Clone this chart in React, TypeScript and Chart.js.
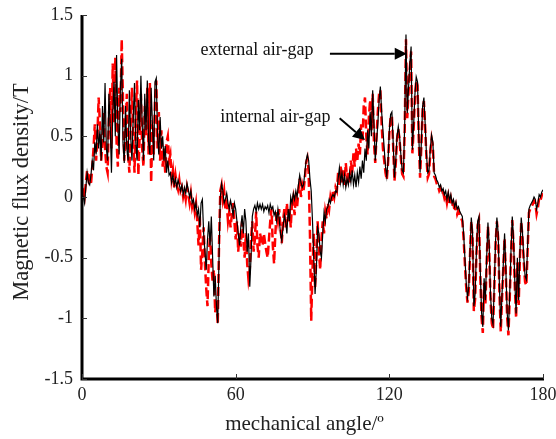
import React, { useEffect, useRef } from "react";
import { Chart, registerables } from "chart.js";

Chart.register(...registerables);

// sampling step of the series, in mechanical degrees
const ANGLE_STEP = 0.5;
const X_MIN = 0;
const X_MAX = 180;
const X_STEP = 60;
const Y_MIN = -1.5;
const Y_MAX = 1.5;
const Y_STEP = 0.5;

// external air-gap (black solid), 0..180 deg every 0.5 deg
const EXTERNAL: number[] = [
  0.02, 0.0, -0.05, 0.08, 0.2, 0.12, 0.1, 0.18, 0.3, 0.22, 0.45, 0.35, 0.6, 0.4, 0.55, 0.3, 0.75, 0.45, 0.94, 0.4,
  0.3, 0.85, 0.6, 0.2, 0.7, 0.95, 0.5, 1.17, 0.6, 0.35, 0.9, 1.14, 0.45, 0.28, 0.75, 0.4, 0.3, 0.88, 0.5, 0.3,
  0.65, 0.94, 0.45, 0.3, 0.8, 0.55, 1.0, 0.6, 0.3, 0.85, 0.55, 0.96, 0.45, 0.35, 0.9, 0.6, 0.3, 0.95, 0.98, 0.5,
  0.35, 0.66, 0.4, 0.5, 0.3, 0.42, 0.2, 0.3, 0.18, 0.2, 0.12, 0.18, 0.1, 0.15, 0.08, 0.14, 0.1, 0.05, 0.1, 0.02,
  0.08, 0.03, 0.11, 0.06, 0.0, 0.05, -0.05, -0.02, -0.1, -0.05, -0.15, -0.1, -0.25, -0.05, -0.02, -0.3, -0.45, -0.6, -0.35, -0.2,
  -0.4, -0.16, -0.5, -0.82, -0.65, -0.9, -1.04, -0.5, 0.0, 0.11, 0.05, -0.05, -0.02, 0.03, -0.05, -0.1, -0.03, -0.08, -0.15, -0.05,
  -0.1, -0.2, -0.3, -0.4, -0.25, -0.15, -0.3, -0.1, -0.2, -0.45, -0.3, -0.74, -0.5, -0.16, -0.1, -0.07, -0.12, -0.05, -0.1, -0.06,
  -0.1, -0.06, -0.12, -0.08, -0.1, -0.07, -0.13, -0.06, -0.1, -0.08, -0.15, -0.12, -0.2, -0.1, -0.18, -0.3, -0.36, -0.25, -0.15, -0.2,
  -0.3, -0.1, -0.2, 0.0, -0.05, 0.03, -0.02, 0.05, 0.0, 0.1, 0.18, 0.12, 0.08, 0.1, 0.2, 0.3, 0.35, 0.3, 0.15, 0.05,
  -0.2, -0.5, -0.8, -0.6, -0.25, -0.3, -0.45, -0.5, -0.3, -0.13, -0.2, -0.1, -0.08, -0.02, -0.05, 0.0, 0.02, 0.0, 0.05, 0.04,
  0.15, 0.24, 0.12, 0.2, 0.1, 0.18, 0.08, 0.15, 0.1, 0.2, 0.12, 0.22, 0.1, 0.18, 0.08, 0.2, 0.12, 0.25, 0.15, 0.3,
  0.2, 0.4, 0.3, 0.55, 0.4, 0.7, 0.5, 0.88, 0.6, 0.3, 0.45, 0.6, 0.8, 0.91, 0.7, 0.55, 0.4, 0.25, 0.17, 0.3,
  0.55, 0.68, 0.7, 0.45, 0.16, 0.3, 0.5, 0.58, 0.5, 0.35, 0.22, 0.2, 0.6, 1.34, 0.69, 0.9, 1.1, 1.24, 0.39, 0.6,
  0.85, 0.99, 0.95, 0.5, 0.2, 0.45, 0.75, 0.82, 0.6, 0.35, 0.2, 0.22, 0.4, 0.51, 0.45, 0.2, 0.18, 0.14, 0.12, 0.08,
  0.1, 0.05, 0.07, 0.02, 0.05, -0.02, 0.04, -0.03, 0.02, -0.05, -0.02, -0.08, -0.04, -0.1, -0.08, -0.12, -0.14, -0.16, -0.3, -0.5,
  -0.7, -0.83, -0.75, -0.45, -0.17, -0.3, -0.9, -0.8, -0.45, -0.2, -0.16, -0.6, -0.95, -1.07, -0.67, -0.85, -0.5, -0.21, -0.4, -0.8,
  -1.0, -1.05, -0.7, -0.35, -0.17, -0.3, -0.75, -1.07, -0.8, -0.55, -0.3, -0.6, -0.95, -1.1, -0.8, -0.45, -0.16, -0.35, -0.7, -0.96,
  -0.5, -0.85, -0.45, -0.17, -0.3, -0.5, -0.65, -0.68, -0.4, -0.1, -0.07, -0.05, -0.03, 0.0, -0.02, -0.1, -0.05, 0.02, 0.0, 0.04,
  0.06,
];

// internal air-gap (red dashed), 0..180 deg every 0.5 deg
const INTERNAL: number[] = [
  0.03, 0.05, 0.0, 0.12, 0.22, 0.15, 0.2, 0.1, 0.25, 0.4, 0.6, 0.3, 0.5, 0.82, 0.6, 0.3, 0.45, 0.7, 0.4, 0.25,
  0.2, 0.65, 0.9, 0.4, 1.1, 0.6, 1.15, 0.45, 0.25, 0.9, 0.7, 1.3, 0.8, 0.3, 0.55, 0.85, 0.35, 0.2, 0.6, 0.9,
  0.5, 0.2, 0.7, 0.96, 0.18, 0.5, 0.85, 0.4, 0.25, 0.75, 0.5, 0.9, 0.35, 0.94, 0.12, 0.6, 0.35, 0.8, 0.96, 0.4,
  0.7, 0.3, 0.55, 0.25, 0.4, 0.2, 0.45, 0.5, 0.3, 0.35, 0.15, 0.22, 0.08, 0.18, 0.1, 0.06, 0.14, 0.05, 0.08, 0.0,
  0.05, -0.02, 0.08, 0.02, -0.05, 0.03, -0.08, -0.03, -0.12, -0.05, -0.2, -0.4, -0.15, -0.6, -0.45, -0.25, -0.55, -0.75, -0.9, -0.5,
  -0.3, -0.55, -0.7, -0.6, -0.95, -0.85, -1.05, -0.4, 0.05, 0.1, -0.02, 0.05, -0.1, -0.05, -0.2, -0.12, -0.25, -0.15, -0.05, -0.2,
  -0.35, -0.2, -0.45, -0.3, -0.41, -0.2, -0.35, -0.5, -0.3, -0.55, -0.68, -0.6, -0.35, -0.2, -0.45, -0.35, -0.12, -0.4, -0.5, -0.3,
  -0.35, -0.4, -0.3, -0.38, -0.45, -0.5, -0.35, -0.2, -0.1, -0.4, -0.55, -0.3, -0.12, -0.2, -0.1, -0.25, -0.38, -0.2, -0.1, -0.25,
  -0.05, -0.2, -0.1, -0.25, -0.05, 0.0, -0.15, 0.02, -0.08, 0.05, 0.15, 0.0, 0.1, 0.05, 0.15, 0.28, 0.32, 0.2, -0.3, -1.02,
  -0.6, -0.3, -0.75, -0.5, -0.2, -0.45, -0.6, -0.35, -0.2, -0.3, -0.12, -0.18, -0.05, -0.1, 0.0, -0.05, 0.05, 0.0, 0.08, 0.05,
  0.2, 0.1, 0.25, 0.12, 0.22, 0.1, 0.28, 0.15, 0.2, 0.12, 0.3, 0.2, 0.36, 0.25, 0.4, 0.3, 0.44, 0.35, 0.6, 0.45,
  0.75, 0.82, 0.5, 0.35, 0.65, 0.8, 0.55, 0.85, 0.45, 0.28, 0.5, 0.7, 0.85, 0.88, 0.6, 0.4, 0.3, 0.2, 0.14, 0.28,
  0.52, 0.66, 0.67, 0.42, 0.13, 0.27, 0.47, 0.56, 0.47, 0.32, 0.19, 0.17, 0.55, 1.3, 0.65, 0.86, 1.06, 1.2, 0.36, 0.56,
  0.82, 0.96, 0.92, 0.47, 0.16, 0.42, 0.72, 0.79, 0.57, 0.32, 0.16, 0.19, 0.37, 0.48, 0.42, 0.17, 0.15, 0.11, 0.09, 0.05,
  0.07, 0.02, 0.04, -0.01, 0.02, -0.05, 0.01, -0.06, -0.01, -0.08, -0.05, -0.12, -0.07, -0.14, -0.11, -0.15, -0.17, -0.2, -0.34, -0.55,
  -0.74, -0.87, -0.78, -0.48, -0.2, -0.34, -0.94, -0.84, -0.48, -0.23, -0.19, -0.64, -0.99, -1.12, -0.71, -0.89, -0.54, -0.24, -0.44, -0.84,
  -1.04, -1.09, -0.74, -0.38, -0.2, -0.34, -0.79, -1.11, -0.84, -0.58, -0.34, -0.64, -0.99, -1.14, -0.84, -0.48, -0.19, -0.39, -0.74, -1.0,
  -0.54, -0.89, -0.49, -0.2, -0.34, -0.54, -0.7, -0.73, -0.44, -0.13, -0.1, -0.08, -0.06, -0.03, -0.05, -0.14, -0.09, -0.01, -0.03, 0.01,
  0.03,
];

const X_TITLE = "mechanical angle/\u00ba";
const Y_TITLE = "Magnetic flux density/T";

// annotations in data coordinates
const LABEL_EXTERNAL = { text: "external air-gap", x: 68.3, y: 1.21 };
const ARROW_EXTERNAL = { x0: 96.8, y0: 1.18, x1: 126.8, y1: 1.18 };
const LABEL_INTERNAL = { text: "internal air-gap", x: 75.5, y: 0.66 };
const ARROW_INTERNAL = { x0: 100.6, y0: 0.65, x1: 110.5, y1: 0.47 };

const FONT = "'Liberation Serif', 'Times New Roman', serif";
const TEXT_COLOR = "#222";

function drawArrow(ctx: CanvasRenderingContext2D, x0: number, y0: number, x1: number, y1: number) {
  const ang = Math.atan2(y1 - y0, x1 - x0);
  const headLen = 12;
  const headHalf = 6;
  const bx = x1 - headLen * Math.cos(ang);
  const by = y1 - headLen * Math.sin(ang);
  ctx.save();
  ctx.strokeStyle = "#000";
  ctx.fillStyle = "#000";
  ctx.lineWidth = 2;
  ctx.beginPath();
  ctx.moveTo(x0, y0);
  ctx.lineTo(bx, by);
  ctx.stroke();
  ctx.beginPath();
  ctx.moveTo(x1, y1);
  ctx.lineTo(bx + headHalf * Math.sin(ang), by - headHalf * Math.cos(ang));
  ctx.lineTo(bx - headHalf * Math.sin(ang), by + headHalf * Math.cos(ang));
  ctx.closePath();
  ctx.fill();
  ctx.restore();
}

const decorPlugin = {
  id: "decor",
  afterDatasetsDraw(chart: any) {
    const { ctx, chartArea, scales } = chart;
    const xs = scales.x;
    const ys = scales.y;
    ctx.save();
    // axis lines
    ctx.strokeStyle = "#000";
    ctx.lineWidth = 3;
    ctx.beginPath();
    ctx.moveTo(chartArea.left, chartArea.top);
    ctx.lineTo(chartArea.left, chartArea.bottom);
    ctx.lineTo(chartArea.right + 1, chartArea.bottom);
    ctx.stroke();
    // inward ticks
    ctx.lineWidth = 1;
    ctx.strokeStyle = "#333";
    for (let v = Y_MIN; v <= Y_MAX + 1e-9; v += Y_STEP) {
      const py = Math.round(ys.getPixelForValue(v)) + 0.5;
      ctx.beginPath();
      ctx.moveTo(chartArea.left, py);
      ctx.lineTo(chartArea.left + 5, py);
      ctx.stroke();
    }
    for (let v = X_MIN; v <= X_MAX + 1e-9; v += X_STEP) {
      const px = Math.round(xs.getPixelForValue(v)) + 0.5;
      ctx.beginPath();
      ctx.moveTo(px, chartArea.bottom);
      ctx.lineTo(px, chartArea.bottom - 5);
      ctx.stroke();
    }
    // axis titles
    ctx.fillStyle = TEXT_COLOR;
    ctx.textAlign = "center";
    ctx.textBaseline = "middle";
    ctx.font = `21px ${FONT}`;
    ctx.fillText(X_TITLE, (chartArea.left + chartArea.right) / 2 - 8, 424);
    ctx.save();
    ctx.translate(22, (chartArea.top + chartArea.bottom) / 2 - 5);
    ctx.rotate(-Math.PI / 2);
    ctx.font = `22.5px ${FONT}`;
    ctx.fillText(Y_TITLE, 0, 0);
    ctx.restore();
    // annotation labels
    ctx.fillStyle = "#111";
    ctx.font = `18px ${FONT}`;
    for (const l of [LABEL_EXTERNAL, LABEL_INTERNAL]) {
      ctx.fillText(l.text, xs.getPixelForValue(l.x), ys.getPixelForValue(l.y));
    }
    for (const a of [ARROW_EXTERNAL, ARROW_INTERNAL]) {
      drawArrow(
        ctx,
        xs.getPixelForValue(a.x0),
        ys.getPixelForValue(a.y0),
        xs.getPixelForValue(a.x1),
        ys.getPixelForValue(a.y1)
      );
    }
    ctx.restore();
  },
};

export default function App() {
  const canvasRef = useRef<HTMLCanvasElement | null>(null);

  useEffect(() => {
    if (!canvasRef.current) return;
    const toPoints = (arr: number[]) => arr.map((y, i) => ({ x: i * ANGLE_STEP, y }));
    const chart = new Chart(canvasRef.current, {
      type: "line",
      data: {
        datasets: [
          {
            label: "external air-gap",
            data: toPoints(EXTERNAL),
            borderColor: "#000000",
            borderWidth: 1.2,
            pointRadius: 0,
            tension: 0,
            fill: false,
            order: 0,
          },
          {
            label: "internal air-gap",
            data: toPoints(INTERNAL),
            borderColor: "#ff0000",
            borderWidth: 2.5,
            borderDash: [9, 4],
            pointRadius: 0,
            tension: 0,
            fill: false,
            order: 1,
          },
        ],
      },
      options: {
        responsive: false,
        animation: false,
        devicePixelRatio: 1,
        parsing: false as any,
        normalized: true,
        layout: { padding: { left: 0, right: 13, top: 15, bottom: 0 } },
        plugins: {
          legend: { display: false },
          tooltip: { enabled: false },
        },
        scales: {
          x: {
            type: "linear",
            min: X_MIN,
            max: X_MAX,
            grid: { display: false, drawTicks: false },
            border: { display: false },
            ticks: {
              stepSize: X_STEP,
              color: TEXT_COLOR,
              font: { family: FONT, size: 18 },
              padding: 5,
              maxRotation: 0,
              callback: (v: any) => String(v),
            },
            title: { display: false },
            afterFit: (s: any) => {
              s.height = 60;
              s.paddingLeft = 0;
              s.paddingRight = 0;
            },
          },
          y: {
            type: "linear",
            min: Y_MIN,
            max: Y_MAX,
            grid: { display: false, drawTicks: false },
            border: { display: false },
            ticks: {
              stepSize: Y_STEP,
              color: TEXT_COLOR,
              font: { family: FONT, size: 18 },
              padding: 9,
              callback: (v: any) => String(Math.round(Number(v) * 10) / 10),
            },
            title: { display: false },
            afterFit: (s: any) => {
              s.width = 82;
              s.paddingTop = 0;
              s.paddingBottom = 0;
            },
          },
        },
      },
      plugins: [decorPlugin],
    });
    return () => chart.destroy();
  }, []);

  return (
    <div style={{ position: "absolute", left: 0, top: 0, width: 556, height: 439, background: "#fff" }}>
      <canvas ref={canvasRef} width={556} height={439} style={{ width: 556, height: 439, display: "block" }} />
    </div>
  );
}
